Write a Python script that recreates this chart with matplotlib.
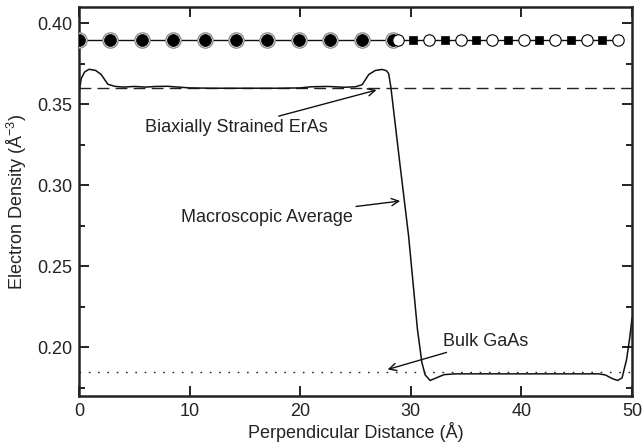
import numpy as np
import matplotlib
matplotlib.use("Agg")
import matplotlib.pyplot as plt
from matplotlib.ticker import MultipleLocator

plt.rcParams['font.family'] = ['Liberation Sans', 'DejaVu Sans']
plt.rcParams['mathtext.default'] = 'regular'

# atomic planes along the growth direction
eras_planes = [0.0, 2.84, 5.68, 8.52, 11.36, 14.2, 17.04, 19.88, 22.72, 25.56, 28.4]
ga_planes = [30.2, 33.05, 35.9, 38.75, 41.6, 44.45, 47.3]
as_planes = [28.8, 31.66, 34.5, 37.35, 40.2, 43.05, 45.9, 48.75]
atom_row = 0.39

# macroscopic average of the electron density
dist = [0.0, 0.2, 0.5, 0.9, 1.5, 2.0, 2.6, 3.2, 3.5, 4.0, 5.0, 6.0, 7.0, 8.0, 9.0,
        10.0, 12.0, 14.0, 16.0, 18.0, 20.0, 21.0, 22.5, 24.0, 25.0, 25.6, 26.2,
        26.8, 27.4, 27.8, 28.0, 28.2, 29.0, 29.8, 30.6, 31.0, 31.3, 31.75, 32.3,
        33.0, 34.0, 36.0, 40.0, 44.0, 47.0, 47.6, 48.2, 48.7, 49.1, 49.5, 49.8, 50.0]
density = [0.357, 0.366, 0.370, 0.3717, 0.371, 0.3685, 0.3625, 0.3612, 0.3610,
           0.3607, 0.3611, 0.3607, 0.3611, 0.3612, 0.3607, 0.3602, 0.3600, 0.3600,
           0.3600, 0.3600, 0.3602, 0.3609, 0.3611, 0.3606, 0.3609, 0.3622, 0.3685,
           0.3710, 0.3716, 0.3708, 0.3690, 0.3605, 0.3140, 0.2687, 0.2110, 0.1905,
           0.1828, 0.1794, 0.1810, 0.1830, 0.1835, 0.1835, 0.1835, 0.1835, 0.1835,
           0.1828, 0.1806, 0.1794, 0.1810, 0.1920, 0.2060, 0.2180]

erAs_level = 0.36
gaAs_level = 0.1845

fig = plt.figure(figsize=(6.43, 4.46), dpi=100)
ax = fig.add_axes([0.1229, 0.1128, 0.8600, 0.8708])

ax.axhline(erAs_level, color='#222222', lw=1.0, dashes=(8.5, 4.5))
ax.axhline(gaAs_level, color='#222222', lw=1.0, dashes=(1.2, 5.5))
ax.plot(dist, density, color='#111111', lw=1.1)

# atom row
ax.plot([eras_planes[0], as_planes[-1]], [atom_row, atom_row], color='#111111', lw=1.0, zorder=3)
ax.plot(eras_planes, [atom_row] * len(eras_planes), 'o', ms=11, mfc='white', mec='#888888', mew=0.9, zorder=4)
ax.plot(eras_planes, [atom_row] * len(eras_planes), 'o', ms=8.6, mfc='black', mec='black', mew=0.5, zorder=5)
ax.plot(as_planes, [atom_row] * len(as_planes), 'o', ms=8.2, mfc='white', mec='black', mew=0.8, zorder=6)
ax.plot(ga_planes, [atom_row] * len(ga_planes), 's', ms=6, mfc='black', mec='black', mew=0.5, zorder=6)

arrow = dict(arrowstyle='->', color='#111111', lw=1.0, shrinkA=0, shrinkB=0)
ax.annotate('Biaxially Strained ErAs', xy=(26.9, 0.3589), xytext=(22.5, 0.3358),
            ha='right', va='center', fontsize=13, color='#222222', arrowprops=arrow)
ax.annotate('Macroscopic Average', xy=(29.04, 0.2903), xytext=(24.8, 0.2802),
            ha='right', va='center', fontsize=13, color='#222222', arrowprops=arrow)
ax.annotate('Bulk GaAs', xy=(27.9, 0.1862), xytext=(32.9, 0.2037),
            ha='left', va='center', fontsize=13, color='#222222', arrowprops=arrow)

ax.set_xlim(0, 50)
ax.set_ylim(0.17, 0.41)
ax.xaxis.set_major_locator(MultipleLocator(10))
ax.yaxis.set_major_locator(MultipleLocator(0.05))
ax.yaxis.set_minor_locator(MultipleLocator(0.025))
ax.tick_params(which='both', direction='in', top=True, right=True, width=1.4, colors='#222222')
ax.tick_params(which='major', length=7, pad=5, labelsize=13)
ax.tick_params(which='minor', length=4)
for s in ax.spines.values():
    s.set_linewidth(1.8)
    s.set_color('#222222')

ax.set_xlabel('Perpendicular Distance (Å)', fontsize=13, color='#222222', labelpad=2)
ax.set_ylabel('Electron Density (Å$^{-3}$)', fontsize=13, color='#222222', labelpad=6)

fig.savefig('out.png', dpi=100)
